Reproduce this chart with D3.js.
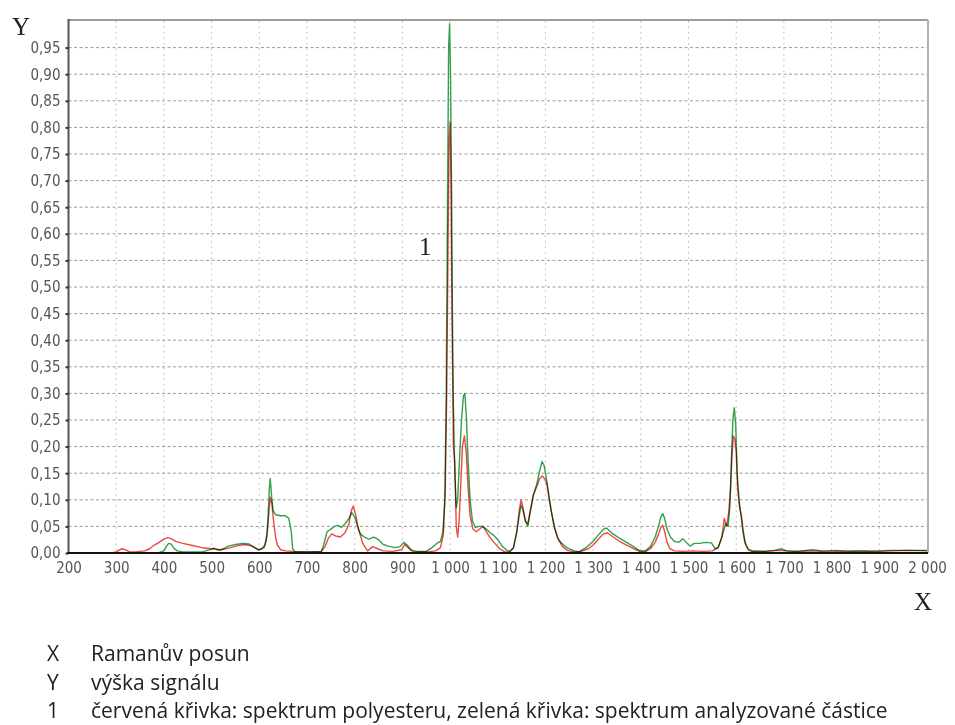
<!DOCTYPE html>
<html>
<head>
<meta charset="utf-8">
<script src="https://cdn.jsdelivr.net/npm/d3@7"></script>
<style>
  html, body { margin: 0; padding: 0; background: #fff; }
  svg { display: block; }
  .tk { font-family: 'DejaVu Sans Condensed', 'DejaVu Sans', sans-serif; font-stretch: condensed; }
</style>
</head>
<body>
<svg id="chart" width="955" height="725"></svg>
<script>
// ---- data (Raman shift, signal height) ----
const redShift = [200,290,300,305,312,320,328,340,360,370,380,390,400,408,415,425,440,460,480,500,520,540,555,570,585,598,605,612,617,620,623,626,630,634,638,645,655,670,700,730,738,745,752,760,770,780,788,793,797,802,808,817,827,838,848,860,880,898,905,912,923,950,970,980,986,990,993,996,998,1000,1002,1004,1007,1010,1013,1016,1019,1022,1026,1030,1034,1038,1042,1048,1055,1062,1069,1076,1083,1092,1104,1115,1125,1133,1140,1145,1149,1153,1158,1163,1168,1175,1182,1188,1193,1198,1203,1208,1213,1220,1227,1236,1246,1260,1275,1290,1300,1310,1320,1330,1342,1355,1370,1385,1398,1410,1420,1430,1437,1442,1446,1450,1455,1461,1470,1490,1510,1530,1550,1562,1570,1575,1580,1584,1588,1591,1594,1597,1600,1603,1607,1611,1615,1620,1625,1632,1640,1660,1690,1720,1750,1780,1810,1840,1870,1900,1930,1960,2000];
const redSignal = [0,0,0.002,0.005,0.008,0.006,0.002,0.002,0.004,0.008,0.015,0.02,0.026,0.029,0.027,0.022,0.018,0.014,0.01,0.008,0.006,0.01,0.014,0.016,0.013,0.006,0.008,0.015,0.04,0.075,0.105,0.095,0.06,0.03,0.015,0.006,0.004,0.003,0.002,0.003,0.012,0.028,0.036,0.032,0.03,0.038,0.055,0.08,0.088,0.072,0.045,0.018,0.004,0.012,0.008,0.004,0.003,0.006,0.016,0.01,0.002,0.002,0.004,0.01,0.035,0.12,0.3,0.6,0.78,0.81,0.7,0.45,0.2,0.17,0.05,0.03,0.06,0.12,0.2,0.22,0.19,0.12,0.07,0.045,0.04,0.045,0.05,0.04,0.03,0.02,0.008,0.002,0.002,0.01,0.04,0.08,0.1,0.085,0.06,0.055,0.08,0.11,0.125,0.14,0.145,0.14,0.13,0.1,0.075,0.045,0.025,0.012,0.005,0.002,0.003,0.008,0.015,0.025,0.035,0.038,0.03,0.022,0.015,0.008,0.003,0.003,0.008,0.02,0.035,0.048,0.052,0.04,0.02,0.008,0.004,0.003,0.004,0.003,0.004,0.01,0.03,0.065,0.05,0.075,0.12,0.18,0.22,0.215,0.19,0.12,0.085,0.07,0.04,0.015,0.006,0.003,0.004,0.003,0.005,0.003,0.004,0.003,0.005,0.003,0.004,0.003,0.004,0.005,0.004];

const greenShift = [200,390,400,405,410,415,420,428,440,480,495,505,515,525,535,550,565,578,590,600,610,615,618,621,623,626,629,634,645,655,662,667,670,675,730,735,742,750,758,765,772,780,788,794,800,806,812,820,830,840,850,860,870,885,895,903,910,918,930,950,962,972,980,985,989,992,995,997,999,1001,1003,1005,1007,1010,1013,1016,1020,1024,1028,1031,1034,1038,1042,1047,1053,1060,1068,1076,1085,1092,1100,1110,1118,1125,1133,1140,1145,1149,1153,1158,1163,1168,1175,1182,1188,1193,1197,1202,1207,1212,1218,1225,1232,1245,1260,1270,1285,1300,1312,1322,1328,1340,1355,1370,1385,1398,1410,1420,1430,1437,1442,1446,1450,1455,1462,1470,1480,1488,1495,1503,1512,1524,1535,1548,1556,1562,1568,1573,1578,1583,1587,1590,1593,1596,1599,1602,1606,1610,1614,1618,1625,1635,1660,1680,1695,1705,1730,1760,1780,1820,1850,1880,1920,1960,2000];
const greenSignal = [0,0.001,0.004,0.012,0.018,0.017,0.01,0.004,0.002,0.002,0.006,0.009,0.005,0.008,0.013,0.016,0.018,0.017,0.01,0.006,0.01,0.025,0.06,0.12,0.14,0.105,0.08,0.072,0.07,0.07,0.065,0.04,0.008,0.002,0.002,0.015,0.04,0.045,0.05,0.052,0.048,0.055,0.065,0.076,0.068,0.05,0.036,0.03,0.026,0.03,0.025,0.016,0.013,0.01,0.012,0.02,0.015,0.006,0.003,0.003,0.01,0.018,0.022,0.04,0.1,0.3,0.7,0.95,0.995,0.9,0.7,0.45,0.28,0.15,0.085,0.1,0.18,0.25,0.295,0.3,0.26,0.17,0.1,0.06,0.048,0.05,0.05,0.045,0.037,0.033,0.025,0.012,0.006,0.003,0.01,0.04,0.07,0.09,0.08,0.06,0.05,0.075,0.11,0.13,0.155,0.172,0.165,0.14,0.11,0.08,0.05,0.03,0.02,0.01,0.004,0.002,0.01,0.022,0.035,0.045,0.047,0.037,0.028,0.02,0.012,0.004,0.004,0.012,0.03,0.05,0.068,0.074,0.065,0.045,0.03,0.022,0.02,0.027,0.02,0.013,0.018,0.018,0.02,0.019,0.008,0.01,0.025,0.04,0.055,0.05,0.09,0.18,0.25,0.273,0.24,0.15,0.1,0.07,0.04,0.02,0.008,0.003,0.003,0.005,0.008,0.004,0.003,0.006,0.004,0.003,0.004,0.003,0.005,0.005,0.005];

const xTickValues = [200,300,400,500,600,700,800,900,1000,1100,1200,1300,1400,1500,1600,1700,1800,1900,2000];
const yTickValues = [0,0.05,0.10,0.15,0.20,0.25,0.30,0.35,0.40,0.45,0.50,0.55,0.60,0.65,0.70,0.75,0.80,0.85,0.90,0.95];

const annotationLabel = ["1"];
const annotationPos = [935, 0.56];

const legendKeys = ["X", "Y", "1"];
const legendTexts = ["Ramanův posun", "výška signálu", "červená křivka: spektrum polyesteru, zelená křivka: spektrum analyzované částice"];

// ---- drawing ----
const svg = d3.select("#chart");
const pL = 68.5, pR = 927, pT = 21, pB = 553;

const x = d3.scaleLinear().domain([200, 2000]).range([pL, pR]);
const y = d3.scaleLinear().domain([0, 1]).range([pB, pT]);

const loc = d3.formatLocale({decimal: ",", thousands: " ", grouping: [3], currency: ["", ""]});
const fx = loc.format(",d");
const fy = loc.format(".2f");

// grid
const grid = svg.append("g");
grid.selectAll("line.h").data(yTickValues.filter(d => d > 0)).join("line")
  .attr("class", "h")
  .attr("x1", pL).attr("x2", pR)
  .attr("y1", d => y(d)).attr("y2", d => y(d))
  .attr("stroke", "#999").attr("stroke-width", 1)
  .attr("stroke-dasharray", "3,2.5");
grid.selectAll("line.v").data(xTickValues.filter(d => d > 200 && d < 2000)).join("line")
  .attr("class", "v")
  .attr("x1", d => x(d)).attr("x2", d => x(d))
  .attr("y1", pT).attr("y2", pB)
  .attr("stroke", "#b5b5b5").attr("stroke-width", 1)
  .attr("stroke-dasharray", "1.5,4");

// frame (top/right)
svg.append("line").attr("x1", pL).attr("x2", pR + 1).attr("y1", pT - 1).attr("y2", pT - 1)
  .attr("stroke", "#9c9c9c").attr("stroke-width", 2);
svg.append("line").attr("x1", pR + 1).attr("x2", pR + 1).attr("y1", pT - 1).attr("y2", pB)
  .attr("stroke", "#b0b0b0").attr("stroke-width", 2);

// curves
const line = d3.line().x(d => x(d[0])).y(d => y(d[1]));
const redData = redShift.map((s, i) => [s, redSignal[i]]);
const greenData = greenShift.map((s, i) => [s, greenSignal[i]]);

const curves = svg.append("g").style("isolation", "isolate");
curves.append("path").datum(greenData).attr("d", line)
  .attr("fill", "none").attr("stroke", "#33a04c").attr("stroke-width", 1.4)
  .attr("stroke-linejoin", "round").style("mix-blend-mode", "multiply");
curves.append("path").datum(redData).attr("d", line)
  .attr("fill", "none").attr("stroke", "#ea4a40").attr("stroke-width", 1.4)
  .attr("stroke-linejoin", "round").style("mix-blend-mode", "multiply");

// y axis
const yAxis = svg.append("g").attr("transform", `translate(${pL},0)`)
  .call(d3.axisLeft(y).tickValues(yTickValues).tickSize(3).tickPadding(5).tickFormat(d => fy(d)));
yAxis.select(".domain").attr("stroke", "#555").attr("stroke-width", 2)
  .attr("d", `M0,${pT - 2}V${pB}`);
yAxis.selectAll(".tick line").attr("stroke", "#333").attr("stroke-width", 2);
yAxis.selectAll(".tick text").attr("class", "tk").attr("font-size", 15).attr("fill", "#555");

// x axis
const xAxis = svg.append("g").attr("transform", `translate(0,${pB})`)
  .call(d3.axisBottom(x).tickValues(xTickValues).tickSize(0).tickPadding(9).tickFormat(d => fx(d)));
xAxis.select(".domain").attr("stroke", "#111").attr("stroke-width", 2.2)
  .attr("d", `M${pL - 1},0H${pR + 1}`);
xAxis.selectAll(".tick text").attr("class", "tk").attr("font-size", 15).attr("fill", "#555");

// axis titles
const serif = "'Liberation Serif', 'DejaVu Serif', serif";
svg.append("text").attr("x", 12).attr("y", 35).text("Y")
  .attr("font-family", serif).attr("font-size", 25).attr("fill", "#222");
svg.append("text").attr("x", 914).attr("y", 610).text("X")
  .attr("font-family", serif).attr("font-size", 25).attr("fill", "#222");

// annotation
svg.append("text").attr("x", x(annotationPos[0])).attr("y", y(annotationPos[1]))
  .text(annotationLabel[0])
  .attr("font-family", serif).attr("font-size", 25).attr("fill", "#222");

// legend
const legFont = "'Open Sans', 'Noto Sans', sans-serif";
const baseSize = 20;
const leg = svg.append("g");
const rows = leg.selectAll("g").data(legendKeys).join("g")
  .attr("transform", (d, i) => `translate(0,${661 + i * 28.5})`);
rows.append("text").attr("x", 47).text(d => d)
  .attr("font-family", legFont).attr("font-size", baseSize).attr("fill", "#222");
const texts = rows.append("text").attr("x", 91).text((d, i) => legendTexts[i])
  .attr("font-family", legFont).attr("font-size", baseSize).attr("fill", "#222");
// size the font so the longest line spans its width in the reference
const w = texts.nodes()[2].getComputedTextLength();
const fitSize = Math.min(21, baseSize * 832 / w);
leg.selectAll("text").attr("font-size", fitSize);
</script>
</body>
</html>
